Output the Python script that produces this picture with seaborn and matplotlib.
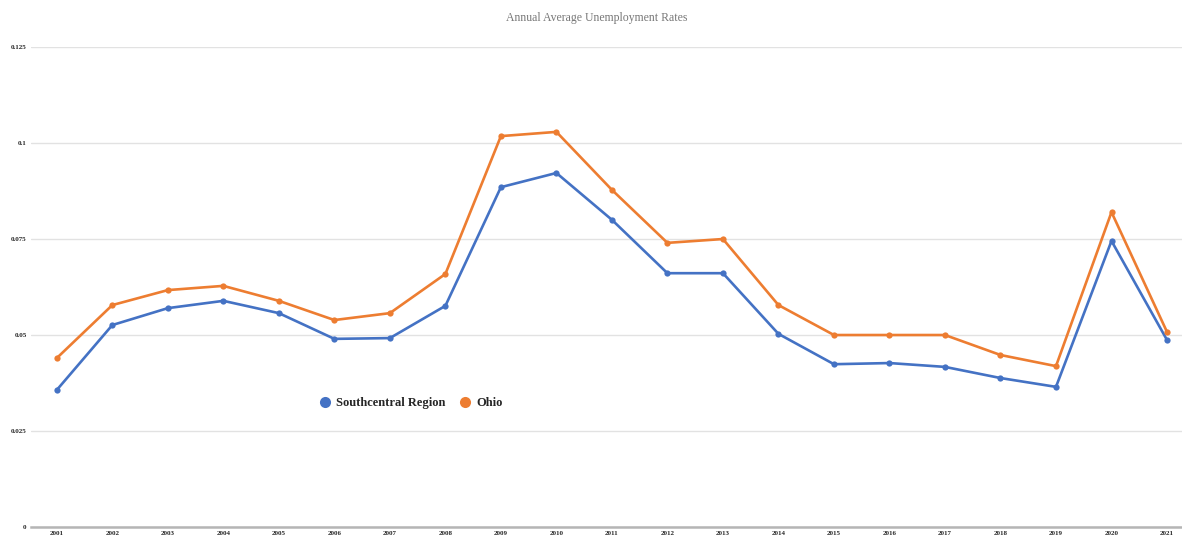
import numpy as np
import pandas as pd
import matplotlib
matplotlib.use("Agg")
import matplotlib.pyplot as plt
import seaborn as sns

years = [str(y) for y in range(2001, 2022)]
southcentral = [0.0357, 0.0526, 0.0570, 0.0589, 0.0557, 0.0490, 0.0492, 0.0576, 0.0885, 0.0922,
                0.0800, 0.0661, 0.0661, 0.0503, 0.0424, 0.0427, 0.0417, 0.0388, 0.0365, 0.0745, 0.0487]
ohio = [0.0440, 0.0578, 0.0617, 0.0628, 0.0589, 0.0539, 0.0557, 0.0659, 0.1018, 0.1029,
        0.0878, 0.0740, 0.0750, 0.0578, 0.0500, 0.0500, 0.0500, 0.0448, 0.0419, 0.0820, 0.0508]
y_ticks = [0, 0.025, 0.05, 0.075, 0.1, 0.125]
y_tick_labels = ["0", "0.025", "0.05", "0.075", "0.1", "0.125"]

df = pd.DataFrame({
    "pos": list(range(len(years))) * 2,
    "rate": southcentral + ohio,
    "series": ["Southcentral Region"] * len(years) + ["Ohio"] * len(years),
})

sns.set_style("white")
plt.rcParams["font.family"] = ["Liberation Serif", "DejaVu Serif"]

fig = plt.figure(figsize=(11.82, 5.38), dpi=100)
ax = fig.add_axes([0.026, 0.0204, 0.974, 0.8922])

palette = {"Southcentral Region": "#4472C4", "Ohio": "#ED7D31"}
sns.lineplot(data=df, x="pos", y="rate", hue="series", palette=palette,
             marker="o", markersize=4.5, markeredgewidth=0, linewidth=1.9,
             ax=ax, legend=True)

ax.set_xlim(-0.47, 20.27)
ax.set_ylim(0, 0.125)
ax.set_xticks(range(len(years)))
ax.set_xticklabels(years, fontsize=5, fontweight="bold")
ax.set_yticks(y_ticks)
ax.set_yticklabels(y_tick_labels, fontsize=5, fontweight="bold")
ax.tick_params(axis="both", length=0, pad=3)
ax.set_xlabel("")
ax.set_ylabel("")
ax.grid(axis="y", color="#e2e2e2", linewidth=1)
ax.set_axisbelow(True)
for side in ["top", "right", "left"]:
    ax.spines[side].set_visible(False)
ax.spines["bottom"].set_color("#b5b5b5")
ax.spines["bottom"].set_linewidth(1.8)

fig.suptitle("Annual Average Unemployment Rates", x=0.505, y=0.978, fontsize=8.5, color="#777777")

handles, labels = ax.get_legend_handles_labels()
for h in handles:
    h.set_linestyle("none")
    h.set_markersize(8)
ax.legend(handles, labels, loc="center", bbox_to_anchor=(0.33, 0.258), ncol=2,
          frameon=False, prop={"weight": "bold", "size": 9},
          handletextpad=0.35, columnspacing=1.1, handlelength=1)

fig.savefig("out.png", dpi=100)
